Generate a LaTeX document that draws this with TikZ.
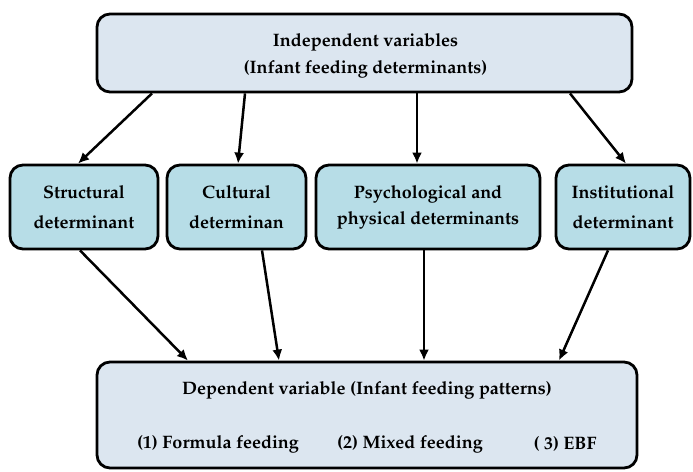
\documentclass[tikz,border=0pt]{standalone}
\usepackage[T1]{fontenc}
\usepackage{mathpazo}
\usetikzlibrary{arrows.meta}
\definecolor{outerfill}{HTML}{DCE6F0}
\definecolor{innerfill}{HTML}{B7DDE7}
\tikzset{
  box/.style={draw=black, line width=2.8pt, rounded corners=13pt, inner sep=0pt, align=center, font=\bfseries\fontsize{18}{30}\selectfont},
  outerbox/.style={box, fill=outerfill},
  innerbox/.style={box, fill=innerfill},
  arr/.style={line width=2.5pt, -{Latex[length=11pt,width=10pt]}},
  lbl/.style={font=\bfseries\fontsize{18}{27}\selectfont, inner sep=0pt, align=center}
}
\begin{document}
\begin{tikzpicture}[x=1pt,y=-1pt]
\useasboundingbox (0,0) rectangle (693,471);
\node[outerbox, minimum width=535pt, minimum height=78pt] (top) at (364.5,53) {};
\node[lbl] (toptext) at (365.5,56) {Independent variables\\(Infant feeding determinants)};
\node[innerbox, minimum width=148pt, minimum height=84pt] (struct) at (84,207) {Structural\\determinant};
\node[innerbox, minimum width=139pt, minimum height=84pt] (cult) at (236.5,207) {Cultural\\determinan};
\node[innerbox, minimum width=224pt, minimum height=84pt, font=\bfseries\fontsize{18}{26}\selectfont] (psych) at (428,207) {Psychological and\\physical determinants};
\node[innerbox, minimum width=134pt, minimum height=84pt] (inst) at (623,207) {Institutional\\determinant};
\node[outerbox, minimum width=540pt, minimum height=106pt] (bot) at (367,415) {};
\node[lbl] (dep) at (367,390) {Dependent variable (Infant feeding patterns)};
\node[lbl] (f1) at (218,444) {(1) Formula feeding};
\node[lbl] (f2) at (410,444) {(2) Mixed feeding};
\node[lbl] (f3) at (565,444) {( 3) EBF};
\draw[arr] ([xshift=-212.5pt]top.south) -- ([xshift=-6pt]struct.north);
\draw[arr] ([xshift=-119.5pt]top.south) -- ([xshift=1.5pt]cult.north);
\draw[arr] ([xshift=52.5pt]top.south) -- ([xshift=-11pt]psych.north);
\draw[arr] ([xshift=205.5pt]top.south) -- ([xshift=3pt]inst.north);
\draw[arr] ([xshift=-4pt]struct.south) -- ([xshift=-179pt]bot.north);
\draw[arr] ([xshift=25.5pt]cult.south) -- ([xshift=-88pt]bot.north);
\draw[arr] ([xshift=-4pt]psych.south) -- ([xshift=57pt]bot.north);
\draw[arr] ([xshift=-15pt]inst.south) -- ([xshift=192pt]bot.north);
\end{tikzpicture}
\end{document}
